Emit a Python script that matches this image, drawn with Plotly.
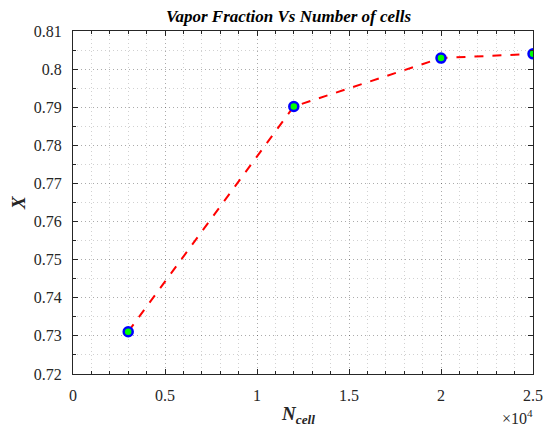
import plotly.graph_objects as go

n_cells = [3000, 12000, 20000, 25000]
vapor_fraction = [0.7311, 0.7902, 0.8029, 0.8040]
x_tickvals = [0, 0.5, 1, 1.5, 2, 2.5]
x_ticktext = ["0", "0.5", "1", "1.5", "2", "2.5"]
y_tickvals = [0.72, 0.73, 0.74, 0.75, 0.76, 0.77, 0.78, 0.79, 0.80, 0.81]
y_ticktext = ["0.72", "0.73", "0.74", "0.75", "0.76", "0.77", "0.78", "0.79", "0.8", "0.81"]

scale = 1e4
xs = [v / scale for v in n_cells]

font_family = "Liberation Serif, Times New Roman, serif"
tick_color = "#262626"
grid_color = "rgba(0,0,0,0.18)"
grid_dash = "1px,3px"

fig = go.Figure()
fig.add_trace(go.Scatter(
    x=xs, y=vapor_fraction, mode="lines+markers",
    line=dict(color="#ff0000", width=2, dash="dash"),
    marker=dict(size=9, color="#00ff00", line=dict(color="#0000ff", width=2.5)),
    showlegend=False,
))

axis_common = dict(
    showline=True, linecolor=tick_color, linewidth=1, mirror="allticks",
    ticks="inside", ticklen=5, tickcolor=tick_color, tickwidth=1,
    showgrid=True, gridcolor=grid_color, griddash=grid_dash, gridwidth=1,
    zeroline=False,
    tickfont=dict(family=font_family, size=16, color=tick_color),
)

fig.update_xaxes(
    range=[0, 2.5], tickmode="array", tickvals=x_tickvals, ticktext=x_ticktext,
    ticklabelstandoff=7,
    minor=dict(dtick=0.1, ticks="inside", ticklen=3, tickcolor=tick_color,
               showgrid=True, gridcolor=grid_color, griddash=grid_dash, gridwidth=1),
    **axis_common,
)
fig.update_yaxes(
    range=[0.72, 0.81], tickmode="array", tickvals=y_tickvals, ticktext=y_ticktext,
    ticklabelstandoff=7,
    minor=dict(dtick=0.005, tick0=0.72, ticks="inside", ticklen=3, tickcolor=tick_color,
               showgrid=True, gridcolor=grid_color, griddash=grid_dash, gridwidth=1),
    **axis_common,
)

fig.update_layout(
    width=555, height=428,
    margin=dict(l=73, r=14, t=31, b=54),
    paper_bgcolor="white", plot_bgcolor="white",
    font=dict(family=font_family, color=tick_color),
    annotations=[
        dict(text="<b><i>Vapor Fraction Vs Number of cells</i></b>", x=0.468, y=1, xref="paper", yref="paper",
             xanchor="center", yanchor="bottom", yshift=3, showarrow=False,
             font=dict(family=font_family, size=17, color="black")),
        dict(text="<b><i>N<sub>cell</sub></i></b>", x=0.49, y=0, xref="paper", yref="paper",
             xanchor="center", yanchor="top", yshift=-27, showarrow=False,
             font=dict(family=font_family, size=19, color=tick_color)),
        dict(text="<b><i>X</i></b>", x=0, y=0.5, xref="paper", yref="paper",
             xanchor="right", yanchor="middle", xshift=-42, textangle=-90, showarrow=False,
             font=dict(family=font_family, size=19, color=tick_color)),
        dict(text="\u00d710<sup>4</sup>", x=1, y=0, xref="paper", yref="paper",
             xanchor="right", yanchor="top", xshift=2, yshift=-31, showarrow=False,
             font=dict(family=font_family, size=16, color=tick_color)),
    ],
)

fig.write_html("out.html")
